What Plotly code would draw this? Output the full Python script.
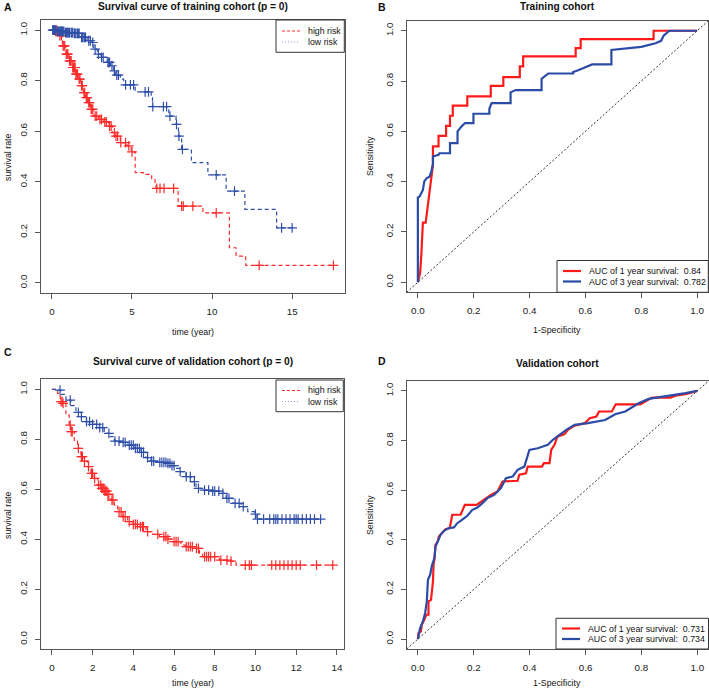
import numpy as np
import plotly.graph_objects as go

# ---------------- DATA ----------------
# Panel A: training cohort Kaplan-Meier (event times / survival after drop)
A_high_t = [0, 0.45, 0.66, 0.87, 1.07, 1.28, 1.49, 1.63, 1.80, 1.96, 2.10, 2.25, 2.41, 2.62, 2.93, 3.24, 3.55,
            3.76, 3.96, 4.27, 4.69, 4.95, 5.2, 5.72, 6.23, 6.44, 6.5, 7.88, 9.43, 11.08, 11.5, 12.1]
A_high_s = [1.0, 0.978, 0.938, 0.905, 0.878, 0.852, 0.826, 0.806, 0.780, 0.753, 0.733, 0.713, 0.687, 0.660,
            0.647, 0.637, 0.620, 0.594, 0.581, 0.555, 0.542, 0.518, 0.436, 0.429, 0.409, 0.390, 0.374, 0.304,
            0.277, 0.139, 0.106, 0.069]
A_high_end = 17.6
A_high_cens = [0.15, 0.2, 0.3, 0.5, 0.6, 0.7, 0.75, 0.8, 0.9, 0.95, 1.0, 1.1, 1.15, 1.2, 1.3, 1.35, 1.4, 1.45,
               1.5, 1.55, 1.6, 1.7, 1.75, 1.85, 1.9, 2.0, 2.05, 2.15, 2.2, 2.3, 2.35, 2.45, 2.5, 2.55, 2.7, 2.8,
               3.0, 3.1, 3.3, 3.4, 3.6, 3.7, 3.9, 4.0, 4.1, 4.3, 4.6, 4.8, 5.0, 6.55, 6.75, 7.0, 7.6, 8.1, 8.2,
               8.8, 10.26, 12.94, 17.58]

A_low_t = [0, 0.3, 0.8, 1.38, 1.8, 2.2, 2.5, 2.62, 2.83, 3.03, 3.45, 3.66, 3.86, 3.96, 4.27, 4.48, 5.2, 6.2,
           6.28, 7.3, 7.75, 7.9, 8.1, 8.71, 9.74, 10.88, 12.05, 14.03]
A_low_s = [1.0, 0.995, 0.99, 0.987, 0.971, 0.958, 0.951, 0.925, 0.905, 0.892, 0.872, 0.859, 0.839, 0.822,
           0.806, 0.783, 0.756, 0.733, 0.697, 0.660, 0.627, 0.581, 0.528, 0.476, 0.427, 0.363, 0.291, 0.218]
A_low_end = 15.0
A_low_cens = [0.05, 0.1, 0.15, 0.2, 0.25, 0.35, 0.4, 0.45, 0.5, 0.55, 0.6, 0.65, 0.7, 0.75, 0.85, 0.9, 0.95,
              1.0, 1.05, 1.1, 1.2, 1.25, 1.3, 1.4, 1.45, 1.5, 1.6, 1.65, 1.7, 1.85, 1.9, 2.0, 2.05, 2.1, 2.3,
              2.4, 2.55, 2.7, 2.9, 3.1, 3.2, 3.5, 3.55, 3.6, 3.75, 3.9, 4.05, 4.15, 4.6, 4.9, 5.1, 5.82, 6.03,
              6.3, 6.96, 7.16, 7.37, 7.78, 7.93, 8.15, 10.26, 11.4, 14.34, 15.0]

# Panel C: validation cohort Kaplan-Meier
C_high_t = [0, 0.28, 0.41, 0.52, 0.69, 0.85, 0.93, 1.1, 1.26, 1.43, 1.59, 1.75, 1.92, 2.08, 2.25, 2.41, 2.57,
            2.74, 2.9, 3.07, 3.23, 3.48, 3.72, 3.97, 4.3, 4.62, 4.95, 5.28, 5.61, 5.93, 6.34, 6.59, 7.0, 7.25,
            7.41, 8.23, 8.8, 9.05]
C_high_s = [1.0, 0.984, 0.951, 0.944, 0.897, 0.857, 0.831, 0.793, 0.764, 0.731, 0.713, 0.691, 0.664, 0.644,
            0.617, 0.604, 0.593, 0.580, 0.557, 0.537, 0.511, 0.491, 0.471, 0.460, 0.451, 0.431, 0.420, 0.411,
            0.401, 0.391, 0.377, 0.371, 0.364, 0.344, 0.331, 0.317, 0.313, 0.297]
C_high_end = 13.8
C_high_cens = [0.45, 0.5, 0.55, 0.9, 0.95, 1.0, 1.3, 1.45, 1.5, 1.6, 1.8, 1.95, 2.0, 2.1, 2.3, 2.4, 2.45,
               2.5, 2.55, 2.6, 2.65, 2.7, 2.75, 2.8, 2.95, 3.0, 3.3, 3.4, 3.5, 3.6, 3.8, 4.0, 4.1, 4.2, 4.35,
               4.45, 4.5, 4.7, 5.2, 5.5, 5.6, 5.7, 6.0, 6.1, 6.2, 6.6, 6.7, 6.8, 6.9, 7.1, 7.2, 7.5, 7.6, 7.7,
               7.8, 8.0, 8.3, 8.6, 8.8, 9.5, 9.7, 9.8, 10.8, 11.0, 11.2, 11.4, 11.6, 11.8, 12.0, 12.2, 13.0, 13.8]

C_low_t = [0, 0.28, 0.44, 0.69, 0.93, 1.18, 1.43, 1.7, 2.0, 2.33, 2.57, 2.82, 3.07, 3.39, 3.72, 4.05, 4.38,
           4.62, 4.87, 5.2, 5.61, 5.85, 6.02, 6.26, 6.59, 6.84, 7.08, 7.41, 7.9, 8.31, 8.56, 8.89, 9.3, 9.62,
           9.95, 10.03]
C_low_s = [1.0, 0.997, 0.98, 0.957, 0.935, 0.908, 0.891, 0.871, 0.86, 0.847, 0.824, 0.811, 0.793, 0.788,
           0.777, 0.764, 0.748, 0.727, 0.713, 0.708, 0.704, 0.695, 0.684, 0.671, 0.651, 0.631, 0.604, 0.597,
           0.593, 0.584, 0.564, 0.544, 0.531, 0.511, 0.501, 0.481]
C_low_end = 13.2
C_low_cens = [0.4, 0.9, 1.3, 1.45, 1.7, 1.85, 2.0, 2.2, 2.35, 2.5, 2.8, 3.1, 3.3, 3.5, 3.6, 3.8, 3.9, 4.0,
              4.1, 4.2, 4.3, 4.4, 4.5, 4.7, 4.9, 5.0, 5.3, 5.4, 5.5, 5.6, 5.7, 5.8, 5.9, 6.0, 6.3, 6.6, 6.8,
              7.0, 7.2, 7.5, 7.7, 7.9, 8.0, 8.2, 8.4, 8.6, 8.7, 9.0, 9.2, 9.4, 10.0, 10.1, 10.4, 10.7, 10.9,
              11.0, 11.1, 11.3, 11.5, 11.7, 11.9, 12.0, 12.1, 12.3, 12.5, 12.7, 12.9, 13.2]

# Panel B: training ROC
B_1y_fpr = [0, 0.008, 0.012, 0.018, 0.018, 0.028, 0.032, 0.036, 0.042, 0.048, 0.054, 0.054, 0.074, 0.074,
            0.101, 0.101, 0.115, 0.115, 0.125, 0.125, 0.177, 0.177, 0.261, 0.261, 0.306, 0.306, 0.365, 0.365,
            0.377, 0.377, 0.565, 0.565, 0.583, 0.583, 0.844, 0.844, 1.0]
B_1y_tpr = [0, 0.036, 0.102, 0.2, 0.237, 0.237, 0.275, 0.321, 0.354, 0.434, 0.467, 0.54, 0.54, 0.582, 0.582,
            0.622, 0.622, 0.662, 0.662, 0.702, 0.702, 0.739, 0.739, 0.781, 0.781, 0.816, 0.816, 0.858, 0.858,
            0.898, 0.898, 0.931, 0.931, 0.967, 0.967, 1.0, 1.0]
B_3y_fpr = [0, 0, 0.006, 0.012, 0.018, 0.023, 0.032, 0.042, 0.048, 0.054, 0.054, 0.074, 0.077, 0.115, 0.115,
            0.142, 0.142, 0.157, 0.169, 0.199, 0.199, 0.256, 0.256, 0.264, 0.332, 0.332, 0.35, 0.443, 0.443,
            0.467, 0.556, 0.556, 0.574, 0.624, 0.693, 0.693, 0.8, 0.851, 0.871, 0.88, 0.9, 1.0]
B_3y_tpr = [0, 0.337, 0.34, 0.357, 0.367, 0.401, 0.414, 0.42, 0.44, 0.47, 0.5, 0.507, 0.513, 0.513, 0.553,
            0.553, 0.6, 0.62, 0.633, 0.633, 0.67, 0.67, 0.69, 0.712, 0.712, 0.755, 0.764, 0.764, 0.809, 0.83,
            0.83, 0.836, 0.843, 0.866, 0.866, 0.924, 0.936, 0.95, 0.96, 0.98, 1.0, 1.0]
B_auc = ["0.84", "0.782"]

# Panel D: validation ROC
D_1y_fpr = [0, 0.002, 0.011, 0.014, 0.023, 0.03, 0.038, 0.038, 0.047, 0.05, 0.054, 0.056, 0.06, 0.063, 0.071,
            0.075, 0.087, 0.099, 0.114, 0.123, 0.153, 0.168, 0.21, 0.227, 0.243, 0.261, 0.285, 0.303, 0.357,
            0.363, 0.387, 0.393, 0.444, 0.451, 0.471, 0.477, 0.489, 0.499, 0.525, 0.537, 0.561, 0.597, 0.615,
            0.639, 0.648, 0.694, 0.708, 0.796, 0.838, 0.904, 0.922, 0.958, 1.0]
D_1y_tpr = [0, 0.024, 0.031, 0.058, 0.078, 0.098, 0.098, 0.152, 0.158, 0.192, 0.232, 0.299, 0.326, 0.38, 0.393,
            0.413, 0.427, 0.443, 0.447, 0.501, 0.501, 0.541, 0.541, 0.554, 0.565, 0.581, 0.595, 0.635, 0.638,
            0.662, 0.668, 0.695, 0.695, 0.709, 0.709, 0.762, 0.783, 0.816, 0.826, 0.843, 0.86, 0.87, 0.89,
            0.897, 0.917, 0.917, 0.946, 0.946, 0.973, 0.973, 0.981, 0.987, 1.0]
D_3y_fpr = [0, 0.008, 0.018, 0.026, 0.032, 0.036, 0.044, 0.05, 0.059, 0.063, 0.071, 0.081, 0.093, 0.111,
            0.129, 0.141, 0.159, 0.177, 0.195, 0.213, 0.231, 0.249, 0.273, 0.297, 0.315, 0.339, 0.357, 0.381,
            0.399, 0.429, 0.465, 0.483, 0.507, 0.531, 0.561, 0.609, 0.67, 0.706, 0.742, 0.79, 0.826, 0.91,
            0.958, 1.0]
D_3y_tpr = [0, 0.044, 0.071, 0.105, 0.152, 0.239, 0.259, 0.295, 0.326, 0.373, 0.393, 0.42, 0.436, 0.447,
            0.45, 0.467, 0.481, 0.497, 0.521, 0.53, 0.548, 0.568, 0.581, 0.608, 0.648, 0.655, 0.682, 0.695,
            0.762, 0.769, 0.783, 0.803, 0.823, 0.843, 0.863, 0.87, 0.883, 0.906, 0.917, 0.95, 0.968, 0.981,
            0.991, 1.0]
D_auc = ["0.731", "0.734"]

KM_labels = ["high risk", "low risk"]
ROC_labels = ["AUC of 1 year survival:", "AUC of 3 year survival:"]

# Axis ticks / ranges
A_xticks = [0, 5, 10, 15]
C_xticks = [0, 2, 4, 6, 8, 10, 12, 14]
prob_ticks = [0.0, 0.2, 0.4, 0.6, 0.8, 1.0]
A_xrange = [-0.7, 18.3]
C_xrange = [-0.55, 14.35]
prob_range = [-0.04, 1.04]

# ---------------- STYLE ----------------
W, H = 709, 688
FONT = "Liberation Sans, Arial, sans-serif"
RED_KM = "#FF2A2A"
BLUE_KM = "#2F4FA8"
RED_ROC = "#FF1A1A"
BLUE_ROC = "#2B4CA6"
AX = "#555555"
KM_DASH = "4px,3px"


def px(x):
    return x / W


def py(y):
    return 1 - y / H


fig = go.Figure()


def step_value(t, s, c):
    t = np.asarray(t)
    s = np.asarray(s)
    idx = np.searchsorted(t, np.asarray(c), side="right") - 1
    return s[idx]


def add_km(t, s, end, cens, color, xa, ya):
    xs = list(t) + [end]
    ys = list(s) + [s[-1]]
    fig.add_trace(go.Scatter(x=xs, y=ys, mode="lines", line=dict(color=color, width=1.2, dash=KM_DASH,
                                                                  shape="hv"),
                             xaxis=xa, yaxis=ya, showlegend=False, hoverinfo="skip"))
    fig.add_trace(go.Scatter(x=cens, y=step_value(t, s, cens), mode="markers",
                             marker=dict(symbol="cross-thin", size=7, line=dict(color=color, width=1.2)),
                             xaxis=xa, yaxis=ya, showlegend=False, hoverinfo="skip"))


def add_roc(f1, t1, f3, t3, xa, ya):
    fig.add_trace(go.Scatter(x=prob_range, y=prob_range, mode="lines",
                             line=dict(color="#333333", width=1, dash="2px,2px"),
                             xaxis=xa, yaxis=ya, showlegend=False, hoverinfo="skip"))
    fig.add_trace(go.Scatter(x=f1, y=t1, mode="lines", line=dict(color=RED_ROC, width=2.2),
                             xaxis=xa, yaxis=ya, showlegend=False, hoverinfo="skip"))
    fig.add_trace(go.Scatter(x=f3, y=t3, mode="lines", line=dict(color=BLUE_ROC, width=2.2),
                             xaxis=xa, yaxis=ya, showlegend=False, hoverinfo="skip"))


add_km(A_high_t, A_high_s, A_high_end, A_high_cens, RED_KM, "x", "y")
add_km(A_low_t, A_low_s, A_low_end, A_low_cens, BLUE_KM, "x", "y")
add_roc(B_1y_fpr, B_1y_tpr, B_3y_fpr, B_3y_tpr, "x2", "y2")
add_km(C_high_t, C_high_s, C_high_end, C_high_cens, RED_KM, "x3", "y3")
add_km(C_low_t, C_low_s, C_low_end, C_low_cens, BLUE_KM, "x3", "y3")
add_roc(D_1y_fpr, D_1y_tpr, D_3y_fpr, D_3y_tpr, "x4", "y4")

# ---------------- AXES ----------------
dom = {
    "A": ([40.7, 345], [20, 293]),
    "B": ([406.7, 708.3], [20.7, 292.3]),
    "C": ([40.7, 344], [379.3, 649.3]),
    "D": ([406.7, 708.5], [381, 649]),
}


def axis_common():
    return dict(showline=True, mirror=True, linecolor=AX, linewidth=1, ticks="outside", ticklen=5,
                tickcolor=AX, tickwidth=1, showgrid=False, zeroline=False,
                tickfont=dict(family=FONT, size=9.8, color="#222222"), ticklabelstandoff=4)


layout_axes = {}
keys = [("xaxis", "yaxis", "A", "x", "y"), ("xaxis2", "yaxis2", "B", "x2", "y2"),
        ("xaxis3", "yaxis3", "C", "x3", "y3"), ("xaxis4", "yaxis4", "D", "x4", "y4")]
for xk, yk, p, xa, ya in keys:
    (x0, x1), (y0, y1) = dom[p]
    xd = axis_common()
    yd = axis_common()
    xd.update(domain=[px(x0), px(x1)], anchor=ya)
    yd.update(domain=[py(y1), py(y0)], anchor=xa, range=prob_range, tickvals=prob_ticks,
              tickformat=".1f", tickangle=-90)
    if p == "A":
        xd.update(range=A_xrange, tickvals=A_xticks)
    elif p == "C":
        xd.update(range=C_xrange, tickvals=C_xticks)
    else:
        xd.update(range=prob_range, tickvals=prob_ticks, tickformat=".1f")
    layout_axes[xk] = xd
    layout_axes[yk] = yd

fig.update_layout(
    width=W, height=H, margin=dict(l=0, r=0, t=0, b=0),
    paper_bgcolor="white", plot_bgcolor="white",
    font=dict(family=FONT, color="#111111"),
    showlegend=False,
    **layout_axes,
)

# ---------------- TEXT & LEGENDS ----------------
ann = []
shapes = []


def add_text(text, x, y, size, bold=False, angle=0, xanchor="center"):
    ann.append(dict(text=("<b>%s</b>" % text) if bold else text, x=px(x), y=py(y), xref="paper",
                    yref="paper", showarrow=False, textangle=angle, xanchor=xanchor, yanchor="middle",
                    font=dict(family=FONT, size=size, color="#111111")))


def draw_legend(box, rows, labels, styles, size=8.8):
    x0, y0, x1, y1 = box
    shapes.append(dict(type="rect", xref="paper", yref="paper", x0=px(x0), x1=px(x1), y0=py(y1), y1=py(y0),
                       line=dict(color="#333333", width=1), fillcolor="white", layer="above"))
    for yy, lab, (col, dash, wid) in zip(rows, labels, styles):
        shapes.append(dict(type="line", xref="paper", yref="paper", x0=px(x0 + 6), x1=px(x0 + 24),
                           y0=py(yy), y1=py(yy), line=dict(color=col, width=wid, dash=dash), layer="above"))
        ann.append(dict(text=lab, x=px(x0 + 30), y=py(yy), xref="paper", yref="paper", showarrow=False,
                        xanchor="left", yanchor="middle", font=dict(family=FONT, size=size, color="#111111")))


km_styles = [(RED_KM, "3px,2px", 1.2), ("#8EA0D8", "1px,2px", 1.2)]
roc_styles = [(RED_ROC, "solid", 2.2), (BLUE_ROC, "solid", 2.2)]

draw_legend((276, 20, 344.3, 52.3), [31, 42], KM_labels, km_styles)
draw_legend((276, 380, 343.3, 411.7), [390.5, 401.5], KM_labels, km_styles)
draw_legend((557, 260.5, 708.3, 292.3), [271, 281.5],
            ["%s  %s" % (l, a) for l, a in zip(ROC_labels, B_auc)], roc_styles)
draw_legend((556, 618.3, 708.5, 649), [628.5, 639],
            ["%s  %s" % (l, a) for l, a in zip(ROC_labels, D_auc)], roc_styles)

add_text("A", 2, 7, 10.5, bold=True, xanchor="left")
add_text("B", 376, 7, 10.5, bold=True, xanchor="left")
add_text("C", 2, 352, 10.5, bold=True, xanchor="left")
add_text("D", 376, 361, 10.5, bold=True, xanchor="left")
add_text("Survival curve of training cohort (p = 0)", 193, 6, 10.2, bold=True)
add_text("Training cohort", 557, 6, 10.2, bold=True)
add_text("Survival curve of validation cohort (p = 0)", 193, 361, 10.2, bold=True)
add_text("Validation cohort", 557, 363, 10.2, bold=True)
add_text("survival rate", 8, 157, 8.8, angle=-90)
add_text("time (year)", 193, 332, 8.8)
add_text("Sensitivity", 370, 156, 8.8, angle=-90)
add_text("1-Specificity", 557, 330, 8.8)
add_text("survival rate", 8, 515, 8.8, angle=-90)
add_text("time (year)", 193, 683, 8.8)
add_text("Sensitivity", 370, 515, 8.8, angle=-90)
add_text("1-Specificity", 557, 683, 8.8)
fig.update_layout(annotations=ann, shapes=shapes)

fig.write_html("out.html", config={"displayModeBar": False},
               post_script="document.body.style.margin='0';document.body.style.overflow='hidden';")
